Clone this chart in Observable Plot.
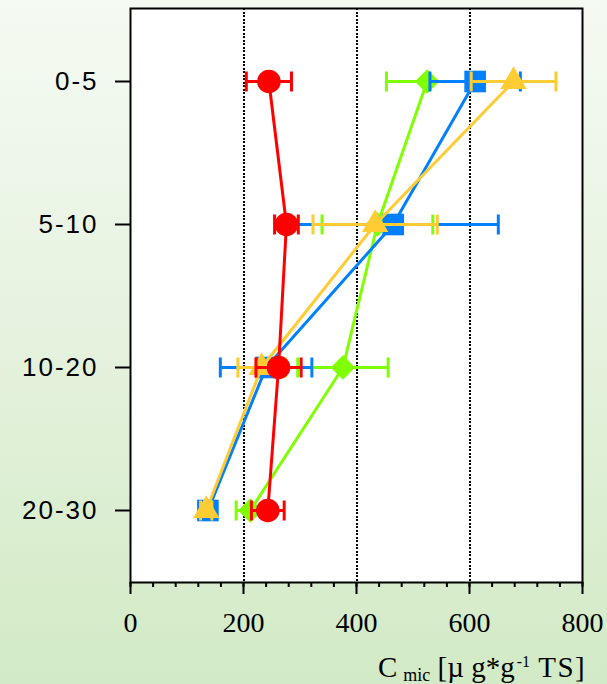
<!DOCTYPE html>
<html>
<head>
<meta charset="utf-8">
<script src="https://cdn.jsdelivr.net/npm/d3@7"></script>
<script src="https://cdn.jsdelivr.net/npm/@observablehq/plot@0.6"></script>
<style>
  html, body { margin: 0; padding: 0; }
  body { width: 607px; height: 684px; background: linear-gradient(to bottom, #f5faf2 0%, #e7f3e0 45%, #d2eac5 100%); overflow: hidden; }
  #chart svg { display: block; }
</style>
</head>
<body>
<div id="chart"></div>
<script>
// Depth classes (cm)
const depths = ["0-5", "5-10", "10-20", "20-30"];
const xTicks = [0, 200, 400, 600, 800];
const gridValues = [200, 400, 600];

// Series values (Cmic, µg/g TS) and error half-widths
const greenMean = [525, 437, 376, 212];
const greenErr  = [72, 98, 80, 25];
const blueMean  = [610, 465, 240, 137];
const blueErr   = [80, 186, 81, 14];
const yellowMean = [678, 433, 232, 134];
const yellowErr  = [75, 110, 42, 10];
const redMean   = [245, 276, 262, 243];
const redErr    = [40, 21, 40, 29];

const seriesDefs = [
  {name: "green", mean: greenMean, err: greenErr, color: "#80ff00", symbol: "diamond2", r: 11},
  {name: "blue", mean: blueMean, err: blueErr, color: "#0080ff", symbol: "square", r: 12.2},
  {name: "yellow", mean: yellowMean, err: yellowErr, color: "#ffcc33", symbol: "triangle", r: 9.8},
  {name: "red", mean: redMean, err: redErr, color: "#ff0000", symbol: "circle", r: 11.8}
];

// vertical cap symbol for error bars
const capSymbol = {
  draw(context) {
    context.moveTo(0, -10);
    context.lineTo(0, 10);
  }
};

const marks = [Plot.frame({fill: "white", stroke: null})];
marks.push(Plot.ruleX(gridValues, {stroke: "black", strokeWidth: 2, strokeDasharray: "2,1.5", shapeRendering: "crispEdges"}));

for (const s of seriesDefs) {
  const rows = depths.map((d, i) => ({depth: d, v: s.mean[i], e: s.err[i]}));
  marks.push(
    Plot.ruleY(rows, {y: "depth", x1: d => d.v - d.e, x2: d => d.v + d.e, stroke: s.color, strokeWidth: 3}),
    Plot.dot(rows, {x: d => d.v - d.e, y: "depth", symbol: capSymbol, stroke: s.color, fill: "none", strokeWidth: 3}),
    Plot.dot(rows, {x: d => d.v + d.e, y: "depth", symbol: capSymbol, stroke: s.color, fill: "none", strokeWidth: 3}),
    Plot.line(rows, {x: "v", y: "depth", stroke: s.color, strokeWidth: 3}),
    Plot.dot(rows, {x: "v", y: "depth", symbol: s.symbol, fill: s.color, stroke: "none", r: s.r})
  );
}

marks.push(
  Plot.frame({stroke: "black", strokeWidth: 2}),
  Plot.axisX({ticks: d3.range(0, 801, 40), tickSize: 5, tickFormat: () => "", strokeWidth: 2, label: null}),
  Plot.axisX({ticks: xTicks, tickSize: 12, tickPadding: 18, strokeWidth: 2, fontSize: 28, fontFamily: "Liberation Serif", tickFormat: d => String(d), label: null}),
  Plot.axisY({tickSize: 15, tickPadding: 17, strokeWidth: 2, fontSize: 26, fontFamily: "Liberation Sans", label: null})
);

const svg = Plot.plot({
  width: 607,
  height: 684,
  marginLeft: 130,
  marginRight: 25,
  marginTop: 8,
  marginBottom: 102,
  style: {background: "transparent", color: "black"},
  x: {domain: [0, 800]},
  y: {type: "point", domain: depths, padding: 0.5},
  marks
});

d3.select(svg).selectAll("g[aria-label='y-axis tick label'] text").style("letter-spacing", "2px");

const t = d3.select(svg).append("text")
  .attr("x", 378).attr("y", 677)
  .attr("text-anchor", "start")
  .attr("font-family", "Liberation Serif")
  .attr("font-size", 29)
  .attr("fill", "black");
t.append("tspan").text("C");
t.append("tspan").attr("font-size", 18).attr("dx", 6).attr("dy", 4).text("mic");
t.append("tspan").attr("dy", -4).text(" [µ g*g");
t.append("tspan").attr("font-size", 16).attr("dx", 2).attr("dy", -10).text("-1");
t.append("tspan").attr("dy", 10).style("letter-spacing", "1.5px").text(" TS]");

document.getElementById("chart").appendChild(svg);
</script>
</body>
</html>
